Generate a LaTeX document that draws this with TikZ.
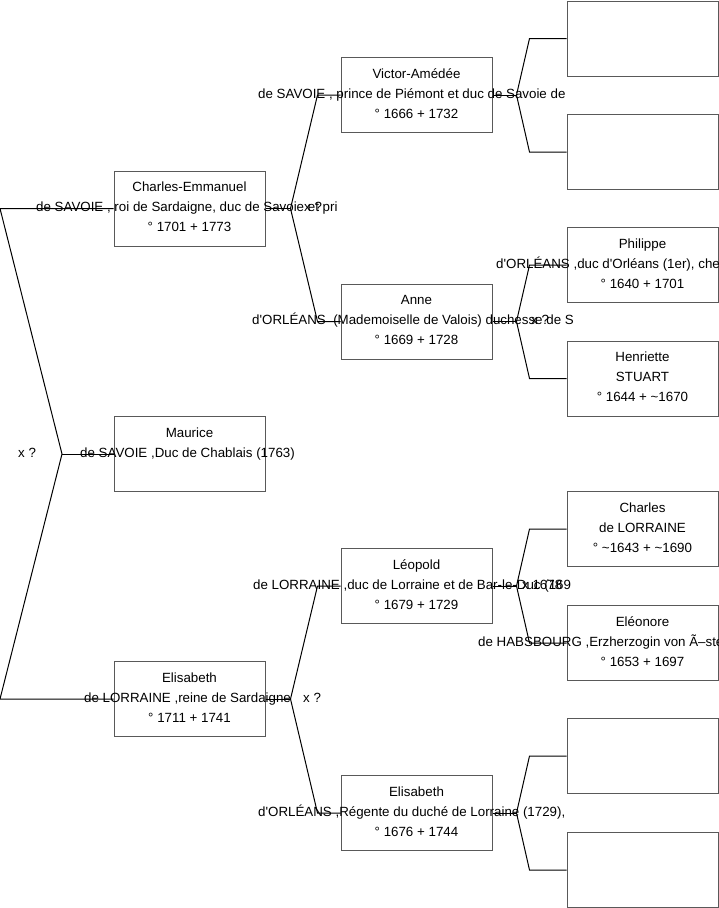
\documentclass[tikz,border=0pt]{standalone}
\usepackage{fontspec}
\setmainfont{Liberation Sans}
\newcommand\apos{\textquotesingle}
\begin{document}
\begin{tikzpicture}[x=1pt,y=-1pt,
  person/.style={draw=black!65, line width=1pt, minimum width=151pt, minimum height=75pt, inner sep=0pt},
  txt/.style={font=\fontsize{13.33}{16}\selectfont, inner sep=0pt, anchor=base},
  txtw/.style={txt, anchor=base west},
  link/.style={line width=1pt, draw=black}]
\useasboundingbox (0,0) rectangle (719,908);
\clip (0,0) rectangle (719,908);

% ---------- boxes ----------
\node[person] (ce) at (189.5,208.5) {};
\node[person] (mau) at (189.5,454) {};
\node[person] (el) at (189.5,699) {};
\node[person] (va) at (416.5,95) {};
\node[person] (an) at (416.5,321.5) {};
\node[person] (le) at (416.5,586) {};
\node[person] (eo) at (416.5,813) {};
\node[person] (e1) at (642.5,38.5) {};
\node[person] (e2) at (642.5,152) {};
\node[person] (ph) at (642.5,265) {};
\node[person] (he) at (642.5,378.5) {};
\node[person] (ch) at (642.5,529) {};
\node[person] (eln) at (642.5,643) {};
\node[person] (e3) at (642.5,756) {};
\node[person] (e4) at (642.5,870) {};

% ---------- connectors ----------
\coordinate (r) at (62,454);
\coordinate (r1) at (0,208.5);
\coordinate (r2) at (0,699);
\draw[link] (mau.west) -- (r);
\draw[link] (ce.west) -- (r1) -- (r) -- (r2) -- (el.west);

\draw[link] (ce.east) -- ++(25,0) coordinate (fce);
\draw[link] (va.west) -- ++(-23,0) -- (fce) -- ([xshift=-23pt]an.west) -- (an.west);
\draw[link] (el.east) -- ++(25,0) coordinate (fel);
\draw[link] (le.west) -- ++(-23,0) -- (fel) -- ([xshift=-23pt]eo.west) -- (eo.west);

\draw[link] (va.east) -- ++(24,0) coordinate (fva);
\draw[link] (e1.west) -- ++(-37,0) -- (fva) -- ([xshift=-37pt]e2.west) -- (e2.west);
\draw[link] (an.east) -- ++(24,0) coordinate (fan);
\draw[link] (ph.west) -- ++(-37,0) -- (fan) -- ([xshift=-37pt]he.west) -- (he.west);
\draw[link] (le.east) -- ++(24,0) coordinate (fle);
\draw[link] (ch.west) -- ++(-37,0) -- (fle) -- ([xshift=-37pt]eln.west) -- (eln.west);
\draw[link] (eo.east) -- ++(24,0) coordinate (feo);
\draw[link] (e3.west) -- ++(-37,0) -- (feo) -- ([xshift=-37pt]e4.west) -- (e4.west);

% ---------- texts ----------
\node[txt] (ce1) at (189.5,191.5) {Charles-Emmanuel};
\node[txtw] (ce2) at (36,211.5) {de SAVOIE , roi de Sardaigne, duc de Savoie et pri};
\node[txt] (ce3) at (189.5,231.5) {° 1701 + 1773};

\node[txt] (mau1) at (189.5,437) {Maurice};
\node[txtw] (mau2) at (80,457) {de SAVOIE ,Duc de Chablais (1763)};

\node[txt] (el1) at (189.5,682) {Elisabeth};
\node[txtw] (el2) at (84,702) {de LORRAINE ,reine de Sardaigne};
\node[txt] (el3) at (189.5,722) {° 1711 + 1741};

\node[txt] (va1) at (416.5,78) {Victor-Amédée};
\node[txtw] (va2) at (258,98) {de SAVOIE , prince de Piémont et duc de Savoie de};
\node[txt] (va3) at (416.5,118) {° 1666 + 1732};

\node[txt] (an1) at (416.5,304.5) {Anne};
\node[txtw] (an2) at (252,324.5) {d\apos ORLÉANS \ (Mademoiselle de Valois) duchesse de S};
\node[txt] (an3) at (416.5,344.5) {° 1669 + 1728};

\node[txt] (le1) at (416.5,569) {Léopold};
\node[txtw] (le2) at (253,589) {de LORRAINE ,duc de Lorraine et de Bar-le-Duc (169};
\node[txt] (le3) at (416.5,609) {° 1679 + 1729};

\node[txt] (eo1) at (416.5,796) {Elisabeth};
\node[txtw] (eo2) at (258,816) {d\apos ORLÉANS ,Régente du duché de Lorraine (1729),};
\node[txt] (eo3) at (416.5,836) {° 1676 + 1744};

\node[txt] (ph1) at (642.5,248) {Philippe};
\node[txtw] (ph2) at (496,268) {d\apos ORLÉANS ,duc d\apos Orléans (1er), che};
\node[txt] (ph3) at (642.5,288) {° 1640 + 1701};

\node[txt] (he1) at (642.5,361.5) {Henriette};
\node[txt] (he2) at (642.5,381.5) {STUART};
\node[txt] (he3) at (642.5,401.5) {° 1644 + \textasciitilde 1670};

\node[txt] (ch1) at (642.5,512) {Charles};
\node[txt] (ch2) at (642.5,532) {de LORRAINE};
\node[txt] (ch3) at (642.5,552) {° \textasciitilde 1643 + \textasciitilde 1690};

\node[txt] (eln1) at (642.5,626) {Eléonore};
\node[txtw] (eln2) at (478,646) {de HABSBOURG ,Erzherzogin von Ã–ste};
\node[txt] (eln3) at (642.5,666) {° 1653 + 1697};

% ---------- marriage labels ----------
\node[txtw] (xr) at (18,457) {x ?};
\node[txtw] (xce) at (304,211.5) {x ?};
\node[txtw] (xel) at (303,702) {x ?};
\node[txtw] (xan) at (531,324.5) {x ?};
\node[txtw] (xle) at (522,589) {x 1678};
\end{tikzpicture}
\end{document}
